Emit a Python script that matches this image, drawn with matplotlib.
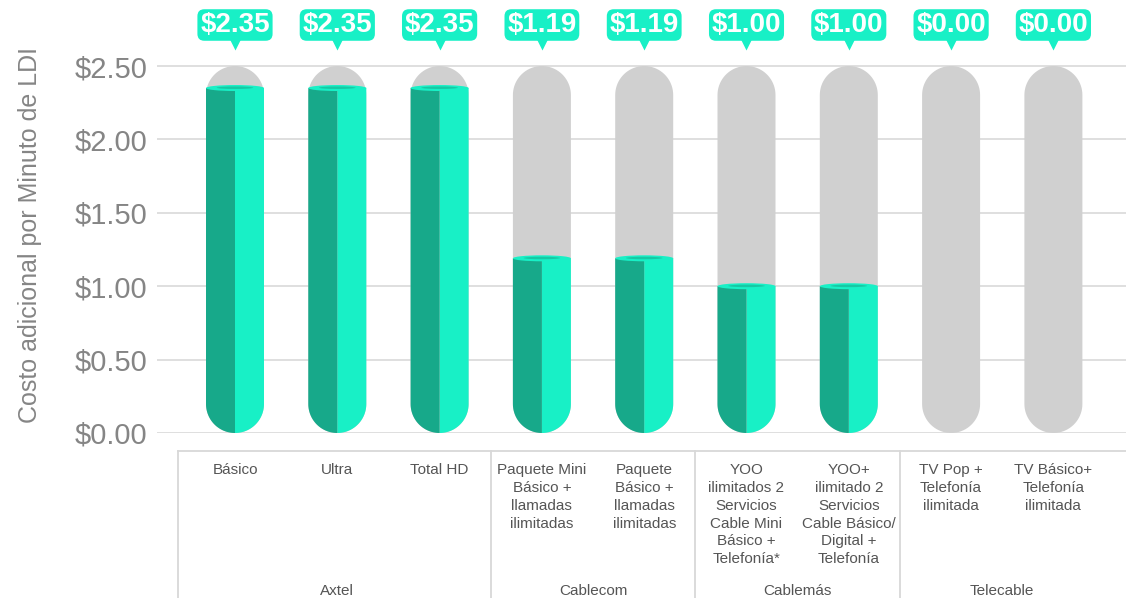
import numpy as np
import matplotlib
matplotlib.use("Agg")
import matplotlib.pyplot as plt
from matplotlib.patches import Polygon, Ellipse

plt.rcParams['font.family'] = ['Liberation Sans', 'DejaVu Sans']

# ---- data ----
plans = ["Básico", "Ultra", "Total HD",
         "Paquete Mini\nBásico +\nllamadas\nilimitadas",
         "Paquete\nBásico +\nllamadas\nilimitadas",
         "YOO\nilimitados 2\nServicios\nCable Mini\nBásico +\nTelefonía*",
         "YOO+\nilimitado 2\nServicios\nCable Básico/\nDigital +\nTelefonía",
         "TV Pop +\nTelefonía\nilimitada",
         "TV Básico+\nTelefonía\nilimitada"]
values = [2.35, 2.35, 2.35, 1.19, 1.19, 1.00, 1.00, 0.00, 0.00]
value_labels = ["$2.35", "$2.35", "$2.35", "$1.19", "$1.19", "$1.00", "$1.00", "$0.00", "$0.00"]
groups = ["Axtel", "Cablecom", "Cablemás", "Telecable"]
group_sizes = [3, 2, 2, 2]
yticks = [0.0, 0.5, 1.0, 1.5, 2.0, 2.5]
ytick_labels = ["$0.00", "$0.50", "$1.00", "$1.50", "$2.00", "$2.50"]
ymax_track = 2.5

DARK = "#17A98A"
BRIGHT = "#18F0C6"
MID = "#17C8A4"
GRAY = "#D0D0D0"
TXT = "#858585"

W, H = 1126, 598
fig = plt.figure(figsize=(W / 100, H / 100), dpi=100)
ax = fig.add_axes([157 / W, (H - 433) / H, (W - 157) / W, 433 / H])
px_per_unit_y = 146.8
px_per_unit_x = 102.3
ax.set_ylim(0, 433 / px_per_unit_y)
x0 = (157 - 235) / px_per_unit_x
ax.set_xlim(x0, x0 + (W - 157) / px_per_unit_x)
for s in ax.spines.values():
    s.set_visible(False)

ax.set_yticks(yticks)
ax.set_yticklabels(ytick_labels, fontsize=21, color=TXT)
ax.tick_params(axis='y', length=0, pad=7)
ax.set_xticks([])
for t in yticks:
    ax.axhline(t, color="#dcdcdc", lw=1.3, zorder=0)

fig.text(30 / W, 1 - 235 / H, "Costo adicional por Minuto de LDI", rotation=90,
         ha='center', va='center', fontsize=18, color=TXT)

bw = 58 / px_per_unit_x
rx = bw / 2
ry = 29 / px_per_unit_y


def arc(cx, cy, t0, t1, n=40):
    t = np.linspace(np.radians(t0), np.radians(t1), n)
    return np.column_stack([cx + rx * np.cos(t), cy + ry * np.sin(t)])


xs = np.arange(len(values))
for x, v, lab in zip(xs, values, value_labels):
    track = np.vstack([arc(x, ry, 180, 360), arc(x, ymax_track - ry, 0, 180)])
    ax.add_patch(Polygon(track, closed=True, fc=GRAY, ec='none', zorder=2))
    if v > 0:
        right = np.vstack([[[x, v]], arc(x, ry, 270, 360), [[x + rx, v]]])
        left = np.vstack([[[x - rx, v]], arc(x, ry, 180, 270), [[x, v]]])
        ax.add_patch(Polygon(right, closed=True, fc=BRIGHT, ec='none', zorder=3))
        ax.add_patch(Polygon(left, closed=True, fc=DARK, ec='none', zorder=3))
        ax.add_patch(Ellipse((x, v), bw, 6 / px_per_unit_y, fc=BRIGHT, ec='none', zorder=4))
        ax.add_patch(Ellipse((x, v + 0.3 / px_per_unit_y), bw * 0.63, 2.5 / px_per_unit_y,
                             fc=MID, ec='none', zorder=5))
    ax.text(x, (433 - 25) / px_per_unit_y, lab, ha='center', va='center', fontsize=20,
            fontweight='bold', color='white', zorder=7,
            bbox=dict(boxstyle='round,pad=0.1,rounding_size=0.25', fc=BRIGHT, ec='none'))
    ax.plot([x], [(433 - 42) / px_per_unit_y], marker='v', ms=11, color=BRIGHT,
            mec='none', zorder=6, clip_on=False)

xt = ax.get_xaxis_transform()
def ay(py):
    return -(py - 433) / 433

left_edge = -0.56
ax.plot([left_edge, x0 + (W - 157) / px_per_unit_x], [ay(451), ay(451)], transform=xt,
        color="#d8d8d8", lw=1.3, clip_on=False)
bounds = np.concatenate([[0], np.cumsum(group_sizes)])
sep_x = [left_edge] + [b - 0.5 for b in bounds[1:-1]]
for sx in sep_x:
    ax.plot([sx, sx], [ay(451), ay(600)], transform=xt, color="#d8d8d8", lw=1.3, clip_on=False)

for x, p in zip(xs, plans):
    ax.text(x, ay(463), p, transform=xt, ha='center', va='top', fontsize=11,
            color="#555555", linespacing=1.35)
for g, b0, n in zip(groups, bounds[:-1], group_sizes):
    ax.text(b0 + (n - 1) / 2, ay(591), g, transform=xt, ha='center', va='center',
            fontsize=11, color="#555555")

fig.savefig("out.png", dpi=100)
